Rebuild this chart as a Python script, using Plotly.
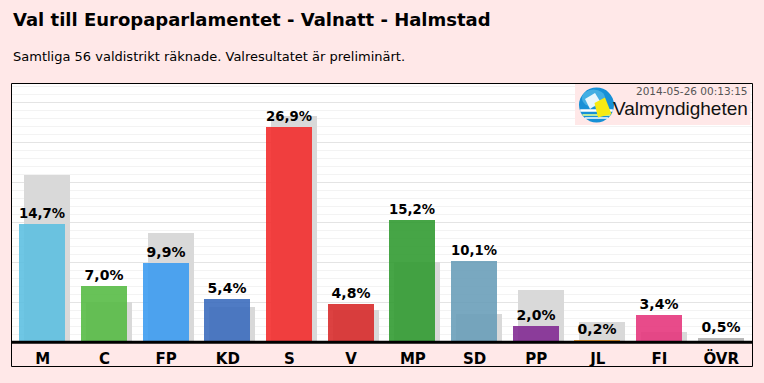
import plotly.graph_objects as go

# ---- data ----
parties = ["M", "C", "FP", "KD", "S", "V", "MP", "SD", "PP", "JL", "FI", "ÖVR"]
result_2014 = [14.7, 7.0, 9.9, 5.4, 26.9, 4.8, 15.2, 10.1, 2.0, 0.2, 3.4, 0.5]
result_prev = [20.9, 5.0, 13.6, 4.4, 28.3, 4.0, 10.0, 3.5, 6.5, 2.5, 1.3, 0.0]
party_colors = ["#6ec6e4", "#68c158", "#50a6f2", "#4f7bc4", "#f44242", "#dc4141",
                "#45a445", "#78a8c0", "#8e3f9e", "#f5a030", "#e84b8a", "#b9b9b9"]

title = "Val till Europaparlamentet - Valnatt - Halmstad"
subtitle = "Samtliga 56 valdistrikt räknade. Valresultatet är preliminärt."
timestamp = "2014-05-26 00:13:15"
brand = "Valmyndigheten"

W, H = 764, 383
ML, MR, MT, MB = 12, 12, 83, 41
PW, PH = W - ML - MR, H - MT - MB
PINK = "#ffe8e8"
ALPHA = 0.88


def px(x):
    return (x - ML) / PW


def py(y):
    return (H - MB - y) / PH


def poly(points):
    return "M " + " L ".join(f"{px(a):.5f},{py(b):.5f}" for a, b in points) + " Z"


def compensate(hexcol):
    # colour that, drawn at ALPHA over white, shows as hexcol
    rgb = [int(hexcol[i:i + 2], 16) for i in (1, 3, 5)]
    c = [max(0, min(255, round((v - (1 - ALPHA) * 255) / ALPHA))) for v in rgb]
    return f"rgb({c[0]},{c[1]},{c[2]})"


xs = list(range(len(parties)))
BW = 0.745
OFF = -0.38
SHIFT = 5 / (PW / len(parties))

fig = go.Figure()
fig.add_trace(go.Bar(
    x=xs, y=result_prev, width=BW, offset=OFF + SHIFT,
    marker=dict(color="#d9d9d9", line=dict(width=0)),
    hoverinfo="skip", showlegend=False,
))
fig.add_trace(go.Bar(
    x=xs, y=result_2014, width=BW, offset=OFF,
    marker=dict(color=[compensate(c) for c in party_colors], opacity=ALPHA, line=dict(width=0)),
    text=[f"{v:.1f}%".replace(".", ",") for v in result_2014],
    textposition="outside", cliponaxis=False,
    textfont=dict(family="DejaVu Sans", size=14, color="black", weight="bold"),
    showlegend=False,
))

# logo (drawn with shapes, screen-pixel positions converted to paper)
cx, cy, r = 596.5, 105.0, 17.5
logo = [
    dict(type="rect", x0=px(575), x1=px(750.5), y0=py(125), y1=py(84),
         fillcolor=PINK, line=dict(width=0)),
    dict(type="circle", x0=px(cx - r), x1=px(cx + r), y0=py(cy + r), y1=py(cy - r),
         fillcolor="#1790d6", line=dict(width=0)),
    dict(type="circle", x0=px(cx - r + 3), x1=px(cx + r - 9), y0=py(cy + 2), y1=py(cy - r + 2),
         fillcolor="rgba(120,210,245,0.45)", line=dict(width=0)),
]
for yy, col, wdt in [(110.5, "white", 2.5), (115.0, "#b8e8a0", 2.0), (118.0, "white", 1.5)]:
    half = (r ** 2 - (yy - cy) ** 2) ** 0.5 - 0.3
    logo.append(dict(type="line", x0=px(cx - half), x1=px(cx + half), y0=py(yy), y1=py(yy),
                     line=dict(color=col, width=wdt)))
logo.append(dict(type="path", path=poly([(585, 99), (595, 93), (600.5, 102), (590, 109)]),
                 fillcolor="#e8f6fc", line=dict(width=0)))
logo.append(dict(type="path", path=poly([(594.5, 103), (605, 97.5), (611.5, 114), (598, 117.5)]),
                 fillcolor="#f7ea12", line=dict(width=0)))
for s in logo:
    s.update(xref="paper", yref="paper", layer="above")

shapes = logo + [
    dict(type="line", xref="paper", yref="paper", x0=px(11.5), x1=px(752.5), y0=py(342.3), y1=py(342.3),
         line=dict(color="black", width=3), layer="above"),
    dict(type="rect", xref="paper", yref="paper", x0=px(11.5), x1=px(752.5), y0=py(366.5), y1=py(83.5),
         line=dict(color="black", width=1), layer="above"),
]

annotations = [
    dict(text=title, xref="paper", yref="paper", x=px(11), y=py(19), xanchor="left", yanchor="middle",
         showarrow=False, font=dict(family="DejaVu Sans", size=18, color="black", weight="bold")),
    dict(text=subtitle, xref="paper", yref="paper", x=px(11), y=py(56), xanchor="left", yanchor="middle",
         showarrow=False, font=dict(family="DejaVu Sans", size=13, color="black")),
    dict(text=timestamp, xref="paper", yref="paper", x=px(750), y=py(91), xanchor="right", yanchor="middle",
         showarrow=False, font=dict(family="DejaVu Sans", size=10.5, color="#555555")),
    dict(text=brand, xref="paper", yref="paper", x=px(750), y=py(108), xanchor="right", yanchor="middle",
         showarrow=False, font=dict(family="Liberation Sans", size=19, color="#111111")),
]

fig.update_layout(
    width=W, height=H,
    margin=dict(l=ML, r=MR, t=MT, b=MB, pad=0),
    paper_bgcolor=PINK, plot_bgcolor="white",
    barmode="overlay", bargap=0,
    separators=", ",
    shapes=shapes, annotations=annotations,
    xaxis=dict(range=[-0.5, len(parties) - 0.5], tickvals=xs, ticktext=parties,
               showgrid=False, zeroline=False, ticks="", showline=False, ticklabelstandoff=6,
               tickfont=dict(family="DejaVu Sans", size=15, color="black", weight="bold")),
    yaxis=dict(range=[0, PH / 8.0], dtick=5, showticklabels=False, zeroline=False,
               showgrid=True, gridcolor="#e4e4e4", gridwidth=1,
               minor=dict(dtick=1, showgrid=True, gridcolor="#f3f3f3", gridwidth=1)),
)

fig.write_html("out.html", config={"displayModeBar": False}, post_script=(
    "document.body.style.margin='0';document.body.style.padding='0';"
    "document.body.style.background='%s';document.body.style.overflow='hidden';" % PINK))
